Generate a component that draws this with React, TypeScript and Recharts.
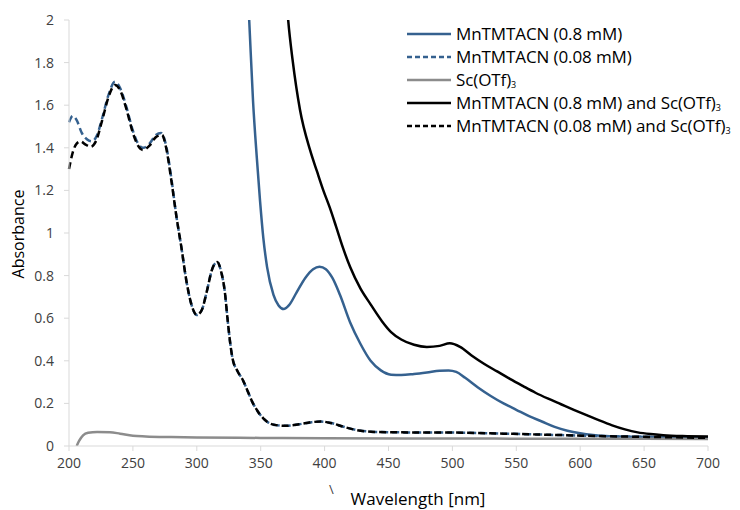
import React from 'react';
import { LineChart, Line, XAxis, YAxis, Label } from 'recharts';

// MnTMTACN (0.8 mM)
const wlMn08 = [336, 338, 341, 344, 347, 349.5, 352, 355, 360, 364, 368, 372, 378, 385, 391, 396, 401, 406, 412, 420, 428, 436, 444, 452, 460, 470, 480, 490, 497, 503, 510, 520, 530, 540, 550, 560, 570, 580, 590, 600, 610, 620, 640, 660, 680, 700];
const absMn08 = [2.6, 2.35, 2.0, 1.62, 1.35, 1.15, 0.98, 0.84, 0.71, 0.66, 0.643, 0.66, 0.72, 0.79, 0.83, 0.842, 0.83, 0.79, 0.71, 0.58, 0.48, 0.4, 0.355, 0.335, 0.333, 0.338, 0.345, 0.353, 0.355, 0.348, 0.32, 0.275, 0.235, 0.2, 0.17, 0.14, 0.115, 0.09, 0.072, 0.06, 0.052, 0.047, 0.044, 0.042, 0.041, 0.04];

// MnTMTACN (0.08 mM)
const wlMn008 = [200, 203, 206, 210, 214, 218, 222, 226, 231, 236, 240, 245, 250, 254, 258, 263, 268, 272, 276, 280, 284, 288, 292, 296, 300, 304, 308, 312, 316, 319, 322, 324, 326, 328, 332, 336, 340, 344, 348, 352, 356, 362, 370, 380, 390, 397, 405, 415, 425, 440, 460, 500, 540, 580, 620, 660, 700];
const absMn008 = [1.52, 1.55, 1.53, 1.47, 1.44, 1.43, 1.46, 1.54, 1.65, 1.71, 1.68, 1.59, 1.48, 1.42, 1.4, 1.42, 1.46, 1.47, 1.41, 1.26, 1.08, 0.93, 0.77, 0.66, 0.615, 0.64, 0.73, 0.83, 0.864, 0.82, 0.72, 0.6, 0.49, 0.41, 0.35, 0.31, 0.255, 0.2, 0.16, 0.13, 0.11, 0.098, 0.095, 0.102, 0.112, 0.115, 0.108, 0.09, 0.075, 0.066, 0.064, 0.063, 0.058, 0.052, 0.046, 0.042, 0.038];

// Sc(OTf)3
const wlSc = [206, 208, 211, 215, 222, 232, 240, 250, 260, 280, 300, 350, 400, 500, 600, 700];
const absSc = [0, 0.025, 0.05, 0.062, 0.066, 0.065, 0.058, 0.048, 0.045, 0.042, 0.04, 0.038, 0.036, 0.035, 0.034, 0.033];

// MnTMTACN (0.8 mM) and Sc(OTf)3
const wlMnSc08 = [368, 371.5, 375, 380.7, 388.6, 394, 399, 404, 409, 414.4, 420, 428, 436, 445, 452, 460, 470, 480, 490, 498, 506, 515, 525, 535, 545, 555, 565, 575, 585, 595, 605, 615, 625, 635, 645, 655, 665, 680, 700];
const absMnSc08 = [2.3, 2.0, 1.81, 1.58, 1.39, 1.29, 1.2, 1.12, 1.03, 0.93, 0.84, 0.74, 0.665, 0.585, 0.535, 0.5, 0.475, 0.465, 0.47, 0.482, 0.465, 0.425, 0.385, 0.35, 0.315, 0.282, 0.25, 0.222, 0.196, 0.17, 0.145, 0.12, 0.097, 0.078, 0.064, 0.056, 0.051, 0.047, 0.045];

// MnTMTACN (0.08 mM) and Sc(OTf)3
const wlMnSc008 = [200, 203, 206, 209, 213, 217, 221, 226, 231, 236, 240, 245, 250, 254, 258, 263, 268, 272.8, 276, 280, 284, 288, 292, 296, 300, 304, 308, 312, 316, 319, 322, 324, 326, 328, 332, 336, 340, 344, 348, 352, 356, 362, 370, 380, 390, 397, 405, 415, 425, 440, 460, 500, 540, 580, 620, 660, 700];
const absMnSc008 = [1.3, 1.38, 1.42, 1.43, 1.415, 1.405, 1.43, 1.53, 1.64, 1.695, 1.67, 1.58, 1.47, 1.41, 1.39, 1.41, 1.45, 1.46, 1.4, 1.25, 1.08, 0.93, 0.77, 0.66, 0.615, 0.64, 0.73, 0.83, 0.864, 0.82, 0.72, 0.6, 0.49, 0.41, 0.35, 0.31, 0.255, 0.2, 0.16, 0.13, 0.11, 0.098, 0.095, 0.102, 0.112, 0.115, 0.108, 0.09, 0.075, 0.066, 0.064, 0.063, 0.058, 0.052, 0.046, 0.042, 0.038];

const xTicks = [200, 250, 300, 350, 400, 450, 500, 550, 600, 650, 700];
const yTicks = [0, 0.2, 0.4, 0.6, 0.8, 1, 1.2, 1.4, 1.6, 1.8, 2];

const BLUE = '#35618f';
const GRAY = '#8c8c8c';
const FONT = '"Open Sans", Lato, sans-serif';

const toPoints = (wl: number[], abs: number[]) => wl.map((w, i) => ({ wl: w, abs: abs[i] }));

const series = [
  { name: 'MnTMTACN (0.8 mM)', sub: false, data: toPoints(wlMn08, absMn08), color: BLUE, dash: undefined },
  { name: 'MnTMTACN (0.08 mM)', sub: false, data: toPoints(wlMn008, absMn008), color: BLUE, dash: '7 4' },
  { name: 'Sc(OTf)', sub: true, data: toPoints(wlSc, absSc), color: GRAY, dash: undefined },
  { name: 'MnTMTACN (0.8 mM) and Sc(OTf)', sub: true, data: toPoints(wlMnSc08, absMnSc08), color: '#000000', dash: undefined },
  { name: 'MnTMTACN (0.08 mM) and Sc(OTf)', sub: true, data: toPoints(wlMnSc008, absMnSc008), color: '#000000', dash: '7 4' },
];

function ChartLegend() {
  return (
    <div style={{ position: 'absolute', left: 405, top: 22, fontFamily: FONT, fontSize: 17, letterSpacing: -0.1, color: '#000' }}>
      {series.map((s) => (
        <div key={s.name} style={{ display: 'flex', alignItems: 'center', whiteSpace: 'nowrap', height: 23.2 }}>
          <svg width={50} height={10} style={{ marginRight: 1 }}>
            <line x1={2} y1={5} x2={46} y2={5} stroke={s.color} strokeWidth={2.5} strokeDasharray={s.dash ? '5 3' : undefined} />
          </svg>
          <span style={{ lineHeight: '18px' }}>
            {s.name}
            {s.sub && (
              <span style={{ fontSize: 9, lineHeight: '9px', display: 'inline-block', position: 'relative', top: 2 }}>3</span>
            )}
          </span>
        </div>
      ))}
    </div>
  );
}

export default function App() {
  return (
    <div style={{ position: 'absolute', left: 0, top: 0, width: 740, height: 510, background: '#fff' }}>
      <LineChart width={740} height={510} margin={{ top: 20, right: 32, bottom: 0, left: 0 }}>
        <XAxis
          dataKey="wl"
          type="number"
          domain={[200, 700]}
          ticks={xTicks}
          allowDuplicatedCategory={false}
          height={64}
          tickSize={5}
          tickMargin={7}
          stroke="#d9d9d9"
          tick={{ fill: '#404040', fontSize: 14, fontFamily: FONT }}
        >
          <Label
            content={() => (
              <g>
                <text x={329} y={494} fontSize={13} fill="#404040" fontFamily={FONT}>\</text>
                <text x={418} y={500} textAnchor="middle" dominantBaseline="middle" fontSize={17} fill="#000" fontFamily={FONT}>
                  Wavelength [nm]
                </text>
              </g>
            )}
          />
        </XAxis>
        <YAxis
          type="number"
          domain={[0, 2]}
          allowDataOverflow
          ticks={yTicks}
          width={69}
          tickSize={5}
          tickMargin={10}
          stroke="#d9d9d9"
          tick={{ fill: '#404040', fontSize: 14, fontFamily: FONT }}
        >
          <Label
            content={() => (
              <text x={20} y={234} transform="rotate(-90 20 234)" textAnchor="middle" dominantBaseline="middle" fontSize={16} fill="#000" fontFamily={FONT}>
                Absorbance
              </text>
            )}
          />
        </YAxis>
        {series.map((s) => (
          <Line
            key={s.name}
            data={s.data}
            dataKey="abs"
            name={s.name}
            type="monotone"
            stroke={s.color}
            strokeWidth={2.5}
            strokeDasharray={s.dash}
            dot={false}
            activeDot={false}
            isAnimationActive={false}
          />
        ))}
      </LineChart>
      <ChartLegend />
    </div>
  );
}
